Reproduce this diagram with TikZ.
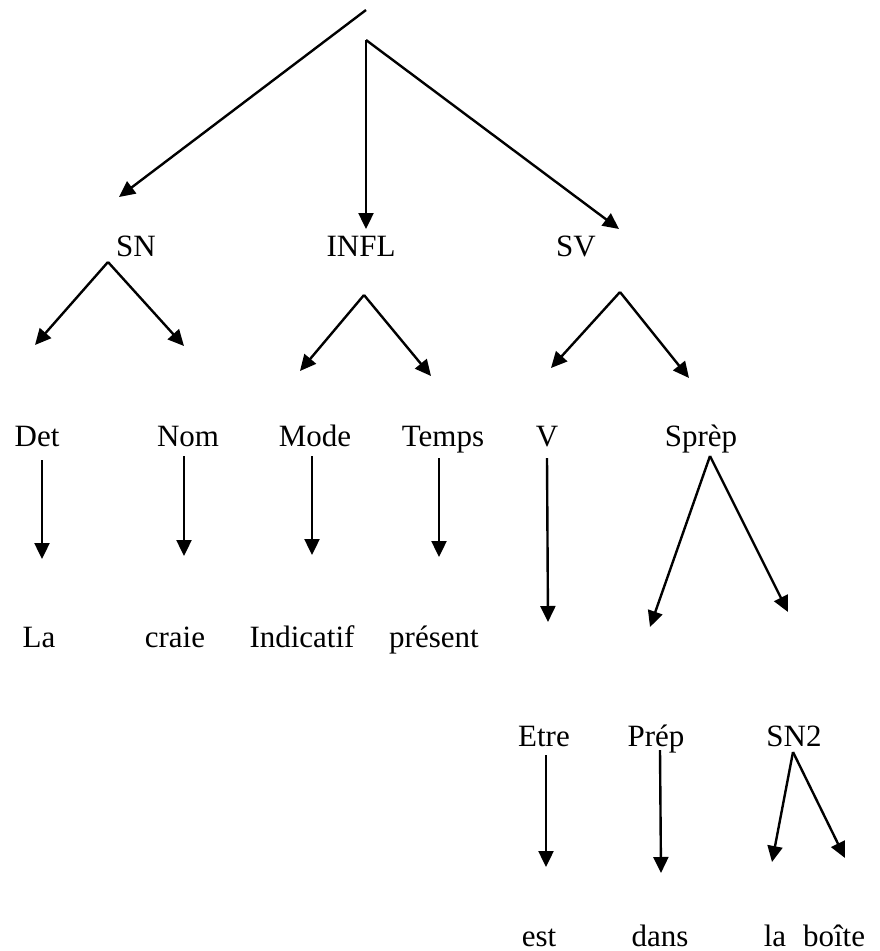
\documentclass[tikz,border=0pt]{standalone}
\usepackage{fontspec}
\setmainfont{Liberation Serif}
\usetikzlibrary{arrows.meta}
\begin{document}
\begin{tikzpicture}[x=1pt,y=-1pt,
  lbl/.style={inner sep=0pt,anchor=base,font=\fontsize{31}{37}\selectfont},
  arr/.style={line width=2.4pt,-{Triangle[length=16pt,width=15pt]}}]
\useasboundingbox (0,0) rectangle (880,951);
% coordinates for free arrow ends
\coordinate (t0) at (366,10);
\coordinate (t1) at (366,40);
\coordinate (tSN) at (119,197);
\coordinate (tINFL) at (366,229);
\coordinate (tSV) at (619,229);
\coordinate (aSN) at (108,262);
\coordinate (aSNl) at (35,345);
\coordinate (aSNr) at (184,346);
\coordinate (aIN) at (364,295);
\coordinate (aINl) at (300,371);
\coordinate (aINr) at (431,376);
\coordinate (aSV) at (620,292);
\coordinate (aSVl) at (551,368);
\coordinate (aSVr) at (689,378);
\coordinate (dDet0) at (42,460); \coordinate (dDet1) at (42,559);
\coordinate (dNom0) at (184,456); \coordinate (dNom1) at (184,556);
\coordinate (dMode0) at (312,456); \coordinate (dMode1) at (312,555);
\coordinate (dTemps0) at (439,458); \coordinate (dTemps1) at (439,557);
\coordinate (dV0) at (547,458); \coordinate (dV1) at (548,622);
\coordinate (aSP) at (710,456);
\coordinate (aSPl) at (650,627);
\coordinate (aSPr) at (788,612);
\coordinate (dEt0) at (546,755); \coordinate (dEt1) at (546,867);
\coordinate (dPr0) at (660,750); \coordinate (dPr1) at (661,873);
\coordinate (aS2) at (793,752);
\coordinate (aS2l) at (772,862);
\coordinate (aS2r) at (845,858);
% labels
\node[lbl] (SN) at (136,256) {SN};
\node[lbl] (INFL) at (361,256) {INFL};
\node[lbl] (SV) at (576,256) {SV};
\node[lbl] (Det) at (37,446) {Det};
\node[lbl] (Nom) at (188,446) {Nom};
\node[lbl] (Mode) at (315,446) {Mode};
\node[lbl] (Temps) at (443,446) {Temps};
\node[lbl] (V) at (547,446) {V};
\node[lbl] (Sprep) at (701,446) {Sprèp};
\node[lbl] (La) at (39,647) {La};
\node[lbl] (craie) at (175,647) {craie};
\node[lbl] (Indic) at (302,647) {Indicatif};
\node[lbl] (present) at (434,647) {présent};
\node[lbl] (Etre) at (544,746) {Etre};
\node[lbl] (Prep) at (656,746) {Prép};
\node[lbl] (SN2) at (794,746) {SN2};
\node[lbl] (est) at (539,946) {est};
\node[lbl] (dans) at (660,946) {dans};
\node[lbl] (la) at (775,946) {la};
\node[lbl] (boite) at (834,946) {boîte};
% arrows
\draw[arr] (t0) -- (tSN);
\draw[arr] (t1) -- (tINFL);
\draw[arr] (t1) -- (tSV);
\draw[arr] (aSN) -- (aSNl);
\draw[arr] (aSN) -- (aSNr);
\draw[arr] (aIN) -- (aINl);
\draw[arr] (aIN) -- (aINr);
\draw[arr] (aSV) -- (aSVl);
\draw[arr] (aSV) -- (aSVr);
\draw[arr] (dDet0) -- (dDet1);
\draw[arr] (dNom0) -- (dNom1);
\draw[arr] (dMode0) -- (dMode1);
\draw[arr] (dTemps0) -- (dTemps1);
\draw[arr] (dV0) -- (dV1);
\draw[arr] (aSP) -- (aSPl);
\draw[arr] (aSP) -- (aSPr);
\draw[arr] (dEt0) -- (dEt1);
\draw[arr] (dPr0) -- (dPr1);
\draw[arr] (aS2) -- (aS2l);
\draw[arr] (aS2) -- (aS2r);
\end{tikzpicture}
\end{document}
